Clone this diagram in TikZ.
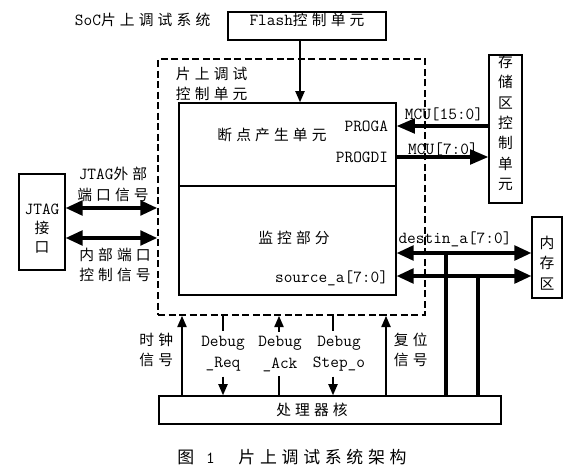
\documentclass[tikz,border=0pt]{standalone}
\usepackage{fontspec}
\newfontfamily\cjk[LetterSpace=28]{Noto Sans CJK SC}
\newcommand\zh[1]{{\fontsize{10.5}{15}\cjk #1}}
\usetikzlibrary{arrows.meta, fit, positioning}

\begin{document}
\begin{tikzpicture}[x=0.025cm, y=-0.025cm,
	font=\fontsize{12}{15}\ttfamily,
	box/.style={draw, line width=1pt, inner sep=0pt},
	cn/.style={font=\fontsize{10.5}{14.5}\cjk, align=center},
	dbox/.style={draw, line width=1.2pt, dash pattern=on 5pt off 2.5pt, inner sep=0pt},
	big/.style={line width=2.2pt, -{Triangle[length=13pt, width=10.5pt]}},
	bigboth/.style={line width=2.2pt, {Triangle[length=12pt, width=10.5pt]}-{Triangle[length=12pt, width=10.5pt]}},
	sig/.style={line width=1.4pt, -{Triangle[length=8pt, width=6.5pt]}},
	sigline/.style={line width=1.4pt},
	bus/.style={line width=2.2pt}]

	\useasboundingbox (0,0) rectangle (570,472);

	% boxes
	\node[anchor=west] (soc) at (70,20) {SoC\zh{片上调试系统}};
	\node[box, fit={(228,12) (386,40)}] (flash) {Flash\zh{控制单元}};
	\node[dbox, fit={(158,59) (425,315)}] (ctrl) {};
	\node[cn, anchor=north west] (ctrllbl) at (171,62) {片上调试\\控制单元};
	\node[box, fit={(179,103) (396,186)}] (bp) {};
	\node[cn] (bplbl) at (272,135) {断点产生单元};
	\node[box, fit={(179,186) (396,295)}] (mon) {};
	\node[cn] (monlbl) at (294,238) {监控部分};
	\node[anchor=east] (proga) at (393,126) {PROGA};
	\node[anchor=east] (progdi) at (393,157) {PROGDI};
	\node[anchor=east] (src) at (393,278) {source\_a[7:0]};
	\node[box, cn, fit={(489,55) (522,203)}] (memctl) {存\\储\\区\\控\\制\\单\\元};
	\node[box, fit={(19,174) (65,270)}] (jtag) {};
	\node[align=center] (jtaglbl) at (42,229) {JTAG\\[-1.5pt]\zh{接}\\[-1.5pt]\zh{口}};
	\node[box, fit={(532,217) (562,298)}] (ram) {};
	\node[cn] (ramlbl) at (547,263) {内\\存\\区};
	\node[box, fit={(159,396) (501,424)}] (core) {};
	\node[cn] (corelbl) at (312,410) {处理器核};

	% top and right side
	\coordinate (fa) at (300,40);
	\draw[sig] (fa) -- (fa |- bp.north);
	\draw[big] (memctl.west |- proga) -- (bp.east |- proga);
	\draw[big] (bp.east |- progdi) -- (memctl.west |- progdi);
	\node (mcua) at (444,114) {MCU[15:0]};
	\node (mcud) at (443,149) {MCU[7:0]};

	% JTAG side
	\coordinate (j1) at (0,208);
	\coordinate (j2) at (0,238);
	\draw[bigboth] (jtag.east |- j1) -- (ctrl.west |- j1);
	\draw[bigboth] (jtag.east |- j2) -- (ctrl.west |- j2);
	\node[align=center] (jext) at (113,184) {JTAG\zh{外部}\\\zh{端口信号}};
	\node[cn] (jint) at (115,265) {内部端口\\控制信号};

	% memory buses
	\coordinate (d1) at (446,253);
	\coordinate (s1) at (478,276);
	\draw[bigboth] (mon.east |- d1) -- (ram.west |- d1);
	\draw[bigboth] (mon.east |- s1) -- (ram.west |- s1);
	\node (dst) at (455,239) {destin\_a[7:0]};
	\draw[bus] (core.north -| d1) -- (d1);
	\draw[bus] (core.north -| s1) -- (s1);

	% signals to the core
	\foreach \n/\x in {clk/182, req/223, ack/279, step/333, rst/386}
		\coordinate (\n) at (\x,355);
	\draw[sig] (core.north -| clk) -- (ctrl.south -| clk);
	\draw[sig] (core.north -| rst) -- (ctrl.south -| rst);
	\node[cn, anchor=east] (clklbl) at (178,350) {时钟\\信号};
	\node[cn, anchor=west] (rstlbl) at (389,350) {复位\\信号};

	\node[align=center] (reqlbl) at (223,354) {Debug\\\_Req};
	\node[align=center] (acklbl) at (280,354) {Debug\\\_Ack};
	\node[align=center] (steplbl) at (339,354) {Debug\\Step\_o};
	\draw[sigline] (req |- ctrl.south) -- (req |- reqlbl.north);
	\draw[sig] (req |- reqlbl.south) -- (req |- core.north);
	\draw[sigline] (ack |- core.north) -- (ack |- acklbl.south);
	\draw[sig] (ack |- acklbl.north) -- (ack |- ctrl.south);
	\draw[sigline] (step |- ctrl.south) -- (step |- steplbl.north);
	\draw[sig] (step |- steplbl.south) -- (step |- core.north);

	\node[font=\fontsize{12}{15}\cjk] (cap) at (292,457) {图\hspace{0.7em}{\ttfamily 1}\hspace{1.4em}片上调试系统架构};
\end{tikzpicture}
\end{document}
